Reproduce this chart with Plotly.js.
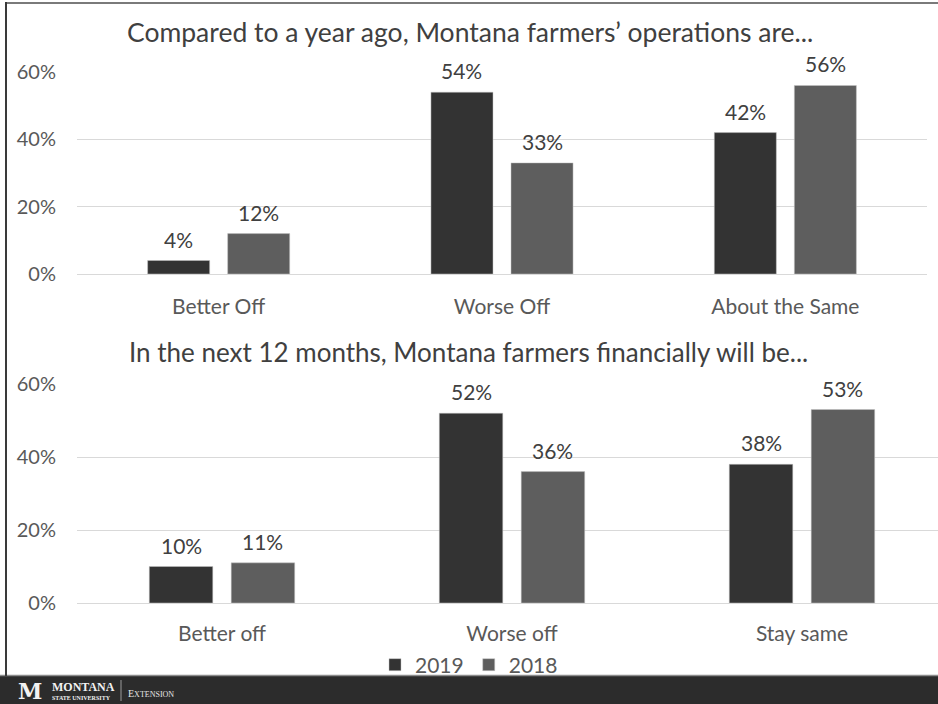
<!DOCTYPE html>
<html>
<head>
<meta charset="utf-8">
<script src="https://cdn.plot.ly/plotly-3.0.1.min.js"></script>
<style>html,body{margin:0;padding:0;background:#fff;}#chart{width:938px;height:704px;}</style>
</head>
<body>
<div id="chart"></div>
<script>
// ---- data ----
const topTitle = "Compared to a year ago, Montana farmers’ operations are...";
const bottomTitle = "In the next 12 months, Montana farmers financially will be...";
const topCategories = ["Better Off", "Worse Off", "About the Same"];
const bottomCategories = ["Better off", "Worse off", "Stay same"];
const seriesNames = ["2019", "2018"];
const top2019 = [0.04, 0.54, 0.42];
const top2018 = [0.12, 0.33, 0.56];
const bottom2019 = [0.10, 0.52, 0.38];
const bottom2018 = [0.11, 0.36, 0.53];
const yTickVals = [0, 0.2, 0.4, 0.6];
const yTickText = ["0%", "20%", "40%", "60%"];

// ---- styles ----
const W = 938, H = 704;
const FONT = "Lato, 'Open Sans', sans-serif";
const colors = ["#333333", "#5e5e5e"];
const BARGAP = 0.435, BARGROUPGAP = 0.225;
const px = v => v / W;
const py = v => 1 - v / H;

// axis geometry (pixels)
const topX = [77, 927], botX = [77, 938];
const topRange = [-0.5, 2.5], botRange = [-0.5, 2.469];
const catWidth = (xd, r) => (xd[1] - xd[0]) / (r[1] - r[0]);

function barTrace(x, y, name, color, xa, ya, showLegend) {
  return {
    type: "bar", x: x, y: y, name: name, legendgroup: name, showlegend: showLegend,
    xaxis: xa, yaxis: ya,
    marker: {color: color, line: {color: "#c4c4c4", width: 0.5}},
    hoverinfo: "skip"
  };
}

const traces = [
  barTrace(topCategories, top2019, seriesNames[0], colors[0], "x", "y", true),
  barTrace(topCategories, top2018, seriesNames[1], colors[1], "x", "y", true),
  barTrace(bottomCategories, bottom2019, seriesNames[0], colors[0], "x2", "y2", false),
  barTrace(bottomCategories, bottom2018, seriesNames[1], colors[1], "x2", "y2", false)
];

// value labels placed from the data through the axes
function valueLabels(cats, vals, xa, ya, half, sign) {
  return cats.map((c, i) => ({
    text: Math.round(vals[i] * 100) + "%", x: c, y: vals[i], xref: xa, yref: ya,
    xshift: sign * half, yshift: 7, showarrow: false, xanchor: "center", yanchor: "bottom",
    font: {family: FONT, size: 21, color: "#404040"}
  }));
}
const topHalf = catWidth(topX, topRange) * (1 - BARGAP) / 4;
const botHalf = catWidth(botX, botRange) * (1 - BARGAP) / 4;

function yAxis(domain, anchor) {
  return {
    domain: domain, anchor: anchor, range: [0, 0.6], tickvals: yTickVals, ticktext: yTickText,
    showgrid: true, gridcolor: "#d9d9d9", gridwidth: 1, zeroline: true, zerolinecolor: "#d9d9d9",
    zerolinewidth: 1, showline: false, ticks: "outside", ticklen: 16, tickcolor: "rgba(0,0,0,0)",
    tickfont: {family: FONT, size: 20, color: "#595959"}, automargin: false, fixedrange: true
  };
}
function xAxis(domain, anchor, range, tl) {
  return {
    domain: domain, anchor: anchor, range: range, type: "category", showgrid: false, zeroline: false,
    showline: false, ticks: "outside", ticklen: tl, tickcolor: "rgba(0,0,0,0)",
    tickfont: {family: FONT, size: 21, color: "#595959"}, automargin: false, fixedrange: true
  };
}

const layout = {
  width: W, height: H,
  margin: {l: 0, r: 0, t: 0, b: 0},
  paper_bgcolor: "#ffffff", plot_bgcolor: "rgba(0,0,0,0)",
  barmode: "group", bargap: BARGAP, bargroupgap: BARGROUPGAP,
  font: {family: FONT, color: "#595959"},
  showlegend: true,
  legend: {orientation: "h", x: 0.5, xanchor: "center", y: py(665), yanchor: "middle",
    font: {family: FONT, size: 21, color: "#595959"}, itemwidth: 30, tracegroupgap: 0,
    bgcolor: "rgba(0,0,0,0)"},
  xaxis: xAxis([px(topX[0]), px(topX[1])], "y", topRange, 14),
  yaxis: yAxis([py(274), py(72)], "x"),
  xaxis2: xAxis([px(botX[0]), px(botX[1])], "y2", botRange, 12),
  yaxis2: yAxis([py(603), py(384)], "x2"),
  annotations: [
    {text: topTitle, xref: "paper", yref: "paper", x: px(470), y: py(32), showarrow: false,
     xanchor: "center", yanchor: "middle", font: {family: FONT, size: 26.5, color: "#404040"}},
    {text: bottomTitle, xref: "paper", yref: "paper", x: px(468), y: py(352), showarrow: false,
     xanchor: "center", yanchor: "middle", font: {family: FONT, size: 26, color: "#404040"}},
    {text: "<b>M</b>", xref: "paper", yref: "paper", x: px(30), y: py(691), showarrow: false,
     xanchor: "center", yanchor: "middle", font: {family: "DejaVu Serif", size: 22, color: "#f2f2f2"}},
    {text: "<b>MONTANA</b>", xref: "paper", yref: "paper", x: px(50), y: py(687), showarrow: false,
     xanchor: "left", yanchor: "middle", font: {family: "Liberation Serif", size: 12, color: "#f2f2f2"}},
    {text: "<b>STATE UNIVERSITY</b>", xref: "paper", yref: "paper", x: px(50), y: py(698), showarrow: false,
     xanchor: "left", yanchor: "middle", font: {family: "Liberation Serif", size: 6, color: "#f2f2f2"}},
    {text: "E<span style='font-size:8px'>XTENSION</span>", xref: "paper", yref: "paper", x: px(126), y: py(693), showarrow: false,
     xanchor: "left", yanchor: "middle", font: {family: "Liberation Serif", size: 10, color: "#e6e6e6"}}
  ].concat(
    valueLabels(topCategories, top2019, "x", "y", topHalf, -1),
    valueLabels(topCategories, top2018, "x", "y", topHalf, 1),
    valueLabels(bottomCategories, bottom2019, "x2", "y2", botHalf, -1),
    valueLabels(bottomCategories, bottom2018, "x2", "y2", botHalf, 1)
  ),
  shapes: [
    {type: "rect", xref: "paper", yref: "paper", x0: 0, x1: 1, y0: 0, y1: py(676),
     fillcolor: "#2c2c2c", line: {width: 0}, layer: "above"},
    {type: "line", xref: "paper", yref: "paper", x0: 0, x1: 1, y0: py(675.5), y1: py(675.5),
     line: {color: "#8c8c8c", width: 1.5}},
    {type: "line", xref: "paper", yref: "paper", x0: px(6), x1: 1, y0: py(3), y1: py(3),
     line: {color: "#7a7a7a", width: 2}},
    {type: "line", xref: "paper", yref: "paper", x0: px(6), x1: px(6), y0: py(2), y1: py(676),
     line: {color: "#3a3a3a", width: 2}},
    {type: "line", xref: "paper", yref: "paper", x0: px(121), x1: px(121), y0: py(680), y1: py(701),
     line: {color: "#9a9a9a", width: 1}, layer: "above"}
  ]
};

Plotly.newPlot("chart", traces, layout, {displayModeBar: false, staticPlot: true});
</script>
</body>
</html>
